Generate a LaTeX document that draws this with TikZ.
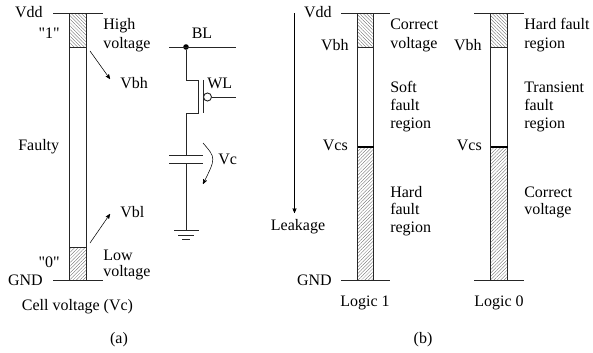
\documentclass[tikz,border=0pt]{standalone}
\usepackage{fontspec}
\setmainfont{Liberation Serif}[Ligatures=TeXOff]
\usepackage{tikz}
\usetikzlibrary{positioning,calc,arrows,patterns.meta}

\begin{document}
\begin{tikzpicture}[
            x=0.75pt, y=-0.75pt,
            wire/.style={line width=0.7pt, draw=black!85},
            hatchup/.style={wire, pattern={Lines[angle=45,distance=1.8pt,line width=0.25pt]}, pattern color=black!60},
            hatchdown/.style={wire, pattern={Lines[angle=-45,distance=1.8pt,line width=0.25pt]}, pattern color=black!60},
            lbl/.style={anchor=base west, inner sep=0pt, font=\fontsize{12}{13.2}\selectfont, align=left},
            lblr/.style={lbl, anchor=base east, align=right},
            lblc/.style={lbl, anchor=base, align=center},
            dot/.style={circle, fill=black, inner sep=0pt, minimum size=4.2pt},
            bubble/.style={circle, wire, fill=white, inner sep=0pt, minimum size=6pt},
        ]
            \useasboundingbox (0,0) rectangle (593,353);

            % (a) cell voltage bar
            \coordinate (vddl1) at (53,13.5);
            \coordinate (vddr1) at (103,13.5);
            \coordinate (gndl1) at (53,280);
            \coordinate (gndr1) at (103,280);
            \draw[hatchdown] (69.5,13.5) rectangle (86,47);
            \draw[hatchup] (69.5,247) rectangle (86,280);
            \draw[wire] (69.5,47) -- (69.5,247);
            \draw[wire] (86,47) -- (86,247);
            \draw[wire] (vddl1) -- (vddr1);
            \draw[wire] (gndl1) -- (gndr1);

            \node [lblr] (vdd1) at (43,18) {Vdd};
            \node [lblr] (one) at (60,38.5) {"1"};
            \node [lbl] (high) at (103,30) {High};
            \node [lbl] (highv) at (103,49) {voltage};
            \node [lbl] (vbh1) at (120,88.7) {Vbh};
            \node [lbl] (faulty) at (18,151) {Faulty};
            \node [lbl] (vbl) at (120,217.7) {Vbl};
            \node [lblr] (zero) at (60,267.7) {"0"};
            \node [lbl] (low) at (103,260) {Low};
            \node [lbl] (lowv) at (103,276) {voltage};
            \node [lblr] (gnd1) at (43,285) {GND};
            \node [lblc] (cell) at (77.5,310) {Cell voltage (Vc)};
            \node [lblc] (capa) at (119,343) {(a)};

            \coordinate (vbhtail) at (90,51);
            \coordinate (vbhtip) at (110,79);
            \coordinate (vbltail) at (90,243);
            \coordinate (vbltip) at (110,214);
            \draw[->,>=stealth',thin] (vbhtail) -- (vbhtip);
            \draw[->,>=stealth',thin] (vbltail) -- (vbltip);

            % cell circuit
            \coordinate (bll) at (169,47);
            \coordinate (blr) at (236,47);
            \node [dot] (bldot) at (186,47) {};
            \draw[wire] (bll) -- (blr);
            \node [lblc] (bl) at (202,38.5) {BL};

            \coordinate (drain) at (198,80);
            \coordinate (source) at (198,113.5);
            \coordinate (capt) at (186,155);
            \coordinate (capb) at (186,163.5);
            \coordinate (gnd) at (186,230.5);
            \draw[wire] (bldot) |- (drain) -- (source) -| (capt);
            \draw[wire] (203,80) -- (203,113.5);
            \node [bubble] (gate) at (207.5,97) {};
            \coordinate (wlend) at (236,97);
            \draw[wire] (gate) -- (wlend);
            \node [lbl] (wl) at (207,88.7) {WL};

            \draw[wire] (169,155) -- (203,155);
            \draw[wire] (169,163.5) -- (203,163.5);
            \draw[wire] (capb) -- (gnd);
            \draw[wire] (174,230.5) -- (199,230.5);
            \draw[wire] (178,235) -- (194,235);
            \draw[wire] (182,239) -- (190,239);

            \coordinate (vctail) at (203,143);
            \coordinate (vctip) at (203,184);
            \draw[->,>=stealth',thin] (vctail) .. controls (216,158) .. (vctip);
            \node [lbl] (vc) at (218,164) {Vc};

            % (b) leakage
            \coordinate (leaktop) at (294.5,13.5);
            \coordinate (leakend) at (294.5,213);
            \draw[->,>=stealth',thin] (leaktop) -- (leakend);
            \node [lblc] (leak) at (298,230.7) {Leakage};

            % logic 1 bar
            \coordinate (vddl2) at (341,13.5);
            \coordinate (vddr2) at (390,13.5);
            \coordinate (gndl2) at (341,280);
            \coordinate (gndr2) at (390,280);
            \draw[hatchdown] (357.5,13.5) rectangle (373.5,47);
            \draw[hatchup] (357.5,147) rectangle (373.5,280);
            \draw[wire] (357.5,47) -- (357.5,147);
            \draw[wire] (373.5,47) -- (373.5,147);
            \draw[wire] (vddl2) -- (vddr2);
            \draw[wire] (gndl2) -- (gndr2);
            \draw[line width=1.1pt] (357.5,147) -- (373.5,147);

            \node [lblr] (vdd2) at (332,18) {Vdd};
            \node [lblr] (vbh2) at (349,51) {Vbh};
            \node [lblr] (vcs2) at (348,150.7) {Vcs};
            \node [lblr] (gnd2) at (332,285) {GND};
            \node [lbl] (corr1) at (390,30) {Correct};
            \node [lbl] (corr1b) at (390,49) {voltage};
            \node [lbl] (soft) at (390,93) {Soft};
            \node [lbl] (softb) at (390,110.5) {fault};
            \node [lbl] (softc) at (390,128) {region};
            \node [lbl] (hard1) at (390,197) {Hard};
            \node [lbl] (hard1b) at (390,214) {fault};
            \node [lbl] (hard1c) at (390,232) {region};
            \node [lblc] (logic1) at (365,306) {Logic 1};
            \node [lblc] (capb2) at (423,343) {(b)};

            % logic 0 bar
            \coordinate (vddl3) at (474,13.5);
            \coordinate (vddr3) at (524,13.5);
            \coordinate (gndl3) at (474,280);
            \coordinate (gndr3) at (524,280);
            \draw[hatchdown] (490.5,13.5) rectangle (507.5,47);
            \draw[hatchup] (490.5,147) rectangle (507.5,280);
            \draw[wire] (490.5,47) -- (490.5,147);
            \draw[wire] (507.5,47) -- (507.5,147);
            \draw[wire] (vddl3) -- (vddr3);
            \draw[wire] (gndl3) -- (gndr3);
            \draw[line width=1.1pt] (490.5,147) -- (507.5,147);

            \node [lblr] (vbh3) at (482,51) {Vbh};
            \node [lblr] (vcs3) at (482,150.7) {Vcs};
            \node [lbl] (hard2) at (524,30) {Hard fault};
            \node [lbl] (hard2b) at (524,49) {region};
            \node [lbl] (trans) at (524,93) {Transient};
            \node [lbl] (transb) at (524,110.5) {fault};
            \node [lbl] (transc) at (524,128) {region};
            \node [lbl] (corr2) at (524,197) {Correct};
            \node [lbl] (corr2b) at (524,214) {voltage};
            \node [lblc] (logic0) at (499,306) {Logic 0};

        \end{tikzpicture}
\end{document}
